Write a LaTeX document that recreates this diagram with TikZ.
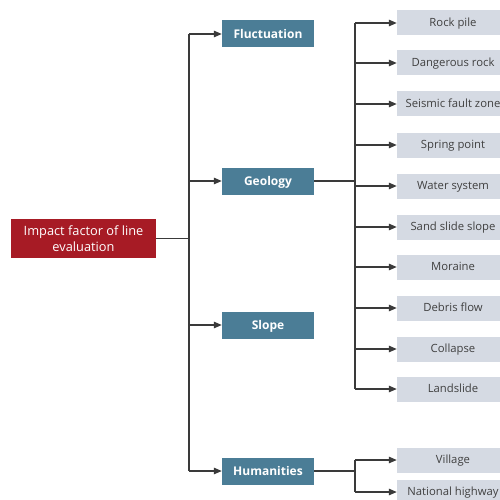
\documentclass[tikz,border=0pt]{standalone}
\usepackage{fontspec}
\setmainfont{Open Sans}
\usetikzlibrary{arrows.meta}
\definecolor{root_red}{HTML}{A71B25}
\definecolor{mid_blue}{HTML}{4B7D96}
\definecolor{leaf_gray}{HTML}{D5DAE3}
\definecolor{line_gray}{HTML}{3A3A3A}
\definecolor{text_gray}{HTML}{404040}

\begin{document}
\begin{tikzpicture}[
    x=1pt, y=-1pt,
    rootbox/.style={fill=root_red, text=white, minimum width=145pt, minimum height=39pt,
        align=center, inner sep=0pt, font=\fontsize{12.8}{15.5}\selectfont},
    midbox/.style={fill=mid_blue, text=white, minimum width=92pt, minimum height=27pt,
        inner sep=0pt, text depth=1pt, font=\fontsize{12}{14}\selectfont\bfseries},
    leafbox/.style={fill=leaf_gray, text=text_gray, minimum width=112pt, minimum height=25pt,
        inner sep=0pt, text depth=1pt, font=\fontsize{11.3}{13}\selectfont},
    link/.style={line_gray, line width=1.2pt},
    arr/.style={link, -{Triangle[length=8pt,width=6.5pt]}},
]
\useasboundingbox (0,0) rectangle (499,500);

% ── Root and second level ───────────────────────────────────────────────────
\node[rootbox] (root) at (83.5,238.5) {Impact factor of line\\evaluation};
\node[midbox] (fluct) at (268,34)  {Fluctuation};
\node[midbox] (geo)   at (268,181) {Geology};
\node[midbox] (slope) at (268,325) {Slope};
\node[midbox] (hum)   at (268,471) {Humanities};

% ── Leaves of Geology ───────────────────────────────────────────────────────
\foreach \name/\y/\txt in {g1/23/Rock pile, g2/63/Dangerous rock,
    g3/104/Seismic fault zone, g4/145/Spring point, g5/186/Water system,
    g6/227/Sand slide slope, g7/267/Moraine, g8/308/Debris flow,
    g9/349/Collapse, g10/389/Landslide}
    \node[leafbox] (\name) at (453,\y) {\txt};

% ── Leaves of Humanities ────────────────────────────────────────────────────
\node[leafbox] (h1) at (453,460) {Village};
\node[leafbox] (h2) at (453,492) {National highway};

% ── Bus points ──────────────────────────────────────────────────────────────
\coordinate (mainbus) at (189,238.5);
\coordinate (geobus)  at (355,181);
\coordinate (humbus)  at (355,471);

% ── Connectors from the root ────────────────────────────────────────────────
\draw[link] (root) -- (mainbus);
\draw[link] (mainbus |- fluct) -- (mainbus |- hum);
\foreach \n in {fluct,geo,slope,hum}
    \draw[arr] (mainbus |- \n) -- (\n.west);

% ── Connectors from Geology ─────────────────────────────────────────────────
\draw[link] (geo) -- (geobus);
\draw[link] (geobus |- g1) -- (geobus |- g10);
\foreach \n in {g1,g2,g3,g4,g5,g6,g7,g8,g9,g10}
    \draw[arr] (geobus |- \n) -- (\n.west);

% ── Connectors from Humanities ──────────────────────────────────────────────
\draw[link] (hum) -- (humbus);
\draw[link] (humbus |- h1) -- (humbus |- h2);
\foreach \n in {h1,h2}
    \draw[arr] (humbus |- \n) -- (\n.west);

\end{tikzpicture}
\end{document}
